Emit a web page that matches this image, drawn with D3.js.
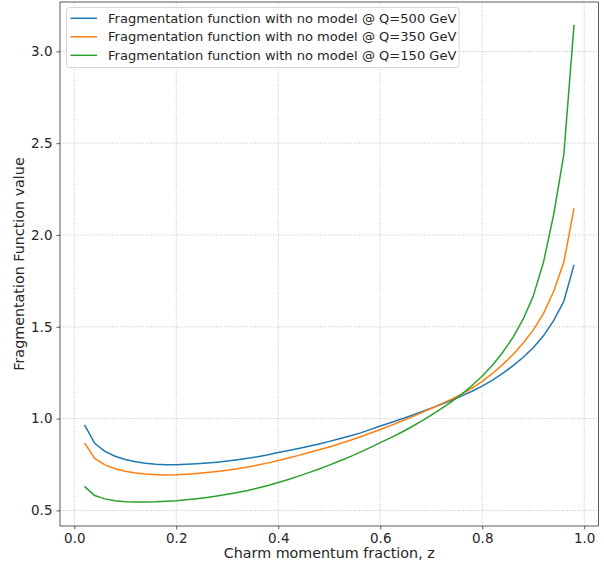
<html>
  <head>
    <style>
      body { margin: 0; background: #fff; }
      text { font-family: "DejaVu Sans", sans-serif; fill: #262626; }
    </style>
  </head>
  <body>
    <svg id="container" height="567" width="604"></svg>
    <script src="https://cdn.jsdelivr.net/npm/d3@7"></script>
    <script>
      // z values (momentum fraction)
      let zValues = [0.02, 0.04, 0.06, 0.08, 0.10, 0.12, 0.14, 0.16, 0.18, 0.20,
        0.22, 0.24, 0.26, 0.28, 0.30, 0.32, 0.34, 0.36, 0.38, 0.40,
        0.42, 0.44, 0.46, 0.48, 0.50, 0.52, 0.54, 0.56, 0.58, 0.60,
        0.62, 0.64, 0.66, 0.68, 0.70, 0.72, 0.74, 0.76, 0.78, 0.80,
        0.82, 0.84, 0.86, 0.88, 0.90, 0.92, 0.94, 0.96, 0.98];

      let q500 = [0.966, 0.866, 0.822, 0.795, 0.777, 0.765, 0.757, 0.752, 0.749, 0.749,
        0.751, 0.754, 0.758, 0.763, 0.769, 0.776, 0.784, 0.793, 0.803, 0.815,
        0.826, 0.837, 0.849, 0.862, 0.876, 0.890, 0.905, 0.921, 0.940, 0.960,
        0.978, 0.997, 1.016, 1.036, 1.057, 1.078, 1.100, 1.124, 1.149, 1.177,
        1.210, 1.246, 1.287, 1.333, 1.386, 1.451, 1.534, 1.639, 1.837];

      let q350 = [0.868, 0.784, 0.748, 0.727, 0.713, 0.704, 0.698, 0.695, 0.693, 0.694,
        0.697, 0.701, 0.706, 0.712, 0.719, 0.727, 0.736, 0.747, 0.759, 0.772,
        0.786, 0.800, 0.815, 0.830, 0.846, 0.863, 0.881, 0.900, 0.920, 0.941,
        0.962, 0.984, 1.007, 1.031, 1.055, 1.080, 1.106, 1.134, 1.166, 1.203,
        1.246, 1.294, 1.348, 1.410, 1.482, 1.572, 1.692, 1.851, 2.145];

      let q150 = [0.631, 0.581, 0.563, 0.553, 0.548, 0.546, 0.546, 0.547, 0.550, 0.553,
        0.558, 0.564, 0.571, 0.579, 0.588, 0.598, 0.609, 0.622, 0.636, 0.652,
        0.669, 0.687, 0.706, 0.726, 0.747, 0.769, 0.792, 0.816, 0.842, 0.869,
        0.895, 0.923, 0.953, 0.985, 1.019, 1.055, 1.093, 1.134, 1.180, 1.232,
        1.291, 1.360, 1.441, 1.540, 1.667, 1.850, 2.110, 2.438, 3.144];

      let seriesNames = [
        "Fragmentation function with no model @ Q=500 GeV",
        "Fragmentation function with no model @ Q=350 GeV",
        "Fragmentation function with no model @ Q=150 GeV"
      ];
      let seriesColors = ["#1f77b4", "#ff7f0e", "#2ca02c"];
      let xTicks = [0.0, 0.2, 0.4, 0.6, 0.8, 1.0];
      let yTicks = [0.5, 1.0, 1.5, 2.0, 2.5, 3.0];

      let svg = d3.select("#container");
      let plotLeft = 60, plotRight = 598.5, plotTop = 2, plotBottom = 526;

      let x = d3.scaleLinear().domain([-0.028, 1.028]).range([plotLeft, plotRight]);
      let y = d3.scaleLinear().domain([0.4153, 3.2687]).range([plotBottom, plotTop]);

      // grid
      svg.append("g")
        .selectAll("line")
        .data(xTicks)
        .enter()
        .append("line")
        .attr("x1", (d) => x(d)).attr("x2", (d) => x(d))
        .attr("y1", plotTop).attr("y2", plotBottom)
        .attr("stroke", "#b0b0b0")
        .attr("stroke-width", 0.8)
        .attr("stroke-dasharray", "1,1.6");

      svg.append("g")
        .selectAll("line")
        .data(yTicks)
        .enter()
        .append("line")
        .attr("x1", plotLeft).attr("x2", plotRight)
        .attr("y1", (d) => y(d)).attr("y2", (d) => y(d))
        .attr("stroke", "#b0b0b0")
        .attr("stroke-width", 0.8)
        .attr("stroke-dasharray", "1,1.6");

      // lines
      let allSeries = [q500, q350, q150];
      let line = d3.line()
        .x((d, i) => x(zValues[i]))
        .y((d) => y(d));

      svg.append("g")
        .selectAll("path")
        .data(allSeries)
        .enter()
        .append("path")
        .attr("d", (d) => line(d))
        .attr("fill", "none")
        .attr("stroke", (d, i) => seriesColors[i])
        .attr("stroke-width", 1.5)
        .attr("stroke-linejoin", "round");

      // axes
      let xAxis = d3.axisBottom(x)
        .tickValues(xTicks)
        .tickFormat(d3.format(".1f"))
        .tickSize(3.5)
        .tickPadding(4);
      let yAxis = d3.axisLeft(y)
        .tickValues(yTicks)
        .tickFormat(d3.format(".1f"))
        .tickSize(3.5)
        .tickPadding(4);

      let gx = svg.append("g")
        .attr("transform", "translate(0," + plotBottom + ")")
        .call(xAxis);
      let gy = svg.append("g")
        .attr("transform", "translate(" + plotLeft + ",0)")
        .call(yAxis);

      [gx, gy].forEach((g) => {
        g.select(".domain").remove();
        g.selectAll(".tick line").attr("stroke", "#333").attr("stroke-width", 0.8);
        g.selectAll(".tick text")
          .attr("font-family", "DejaVu Sans")
          .attr("font-size", 13.5)
          .attr("fill", "#262626");
      });

      // frame
      svg.append("rect")
        .attr("x", plotLeft).attr("y", plotTop)
        .attr("width", plotRight - plotLeft).attr("height", plotBottom - plotTop)
        .attr("fill", "none")
        .attr("stroke", "#333")
        .attr("stroke-width", 0.8);

      // axis labels
      svg.append("text")
        .attr("x", (plotLeft + plotRight) / 2)
        .attr("y", 558)
        .attr("text-anchor", "middle")
        .attr("font-size", 14.3)
        .text("Charm momentum fraction, z");

      svg.append("text")
        .attr("transform", "translate(24," + (plotTop + plotBottom) / 2 + ") rotate(-90)")
        .attr("text-anchor", "middle")
        .attr("font-size", 14.3)
        .text("Fragmentation Function value");

      // legend
      let legend = svg.append("g");
      legend.append("rect")
        .attr("x", 66.5).attr("y", 7.5)
        .attr("width", 392.5).attr("height", 60)
        .attr("rx", 3)
        .attr("fill", "#fff")
        .attr("fill-opacity", 0.8)
        .attr("stroke", "#d6d6d6")
        .attr("stroke-width", 1);

      let items = legend.selectAll(".item")
        .data(seriesNames)
        .enter()
        .append("g")
        .attr("class", "item")
        .attr("transform", (d, i) => "translate(0," + (18.3 + i * 18.5) + ")");

      items.append("line")
        .attr("x1", 70.5).attr("x2", 97)
        .attr("y1", 0).attr("y2", 0)
        .attr("stroke", (d, i) => seriesColors[i])
        .attr("stroke-width", 1.5);

      items.append("text")
        .attr("x", 108)
        .attr("y", 4.6)
        .attr("font-size", 13.05)
        .text((d) => d);
    </script>
  </body>
</html>
